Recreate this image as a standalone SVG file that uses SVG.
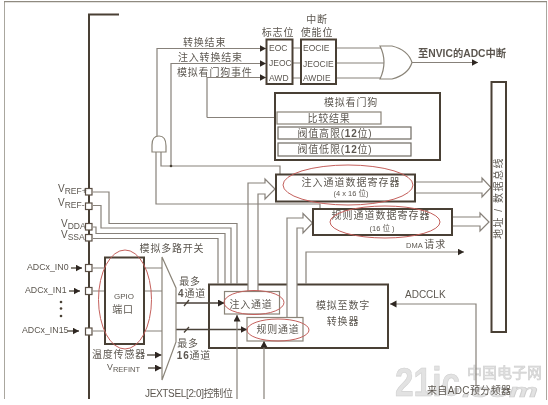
<svg xmlns="http://www.w3.org/2000/svg" width="548" height="405" viewBox="0 0 548 405">
<style>
text{font-family:"Liberation Sans","Noto Sans CJK SC",sans-serif;fill:#5c5750;font-size:10px}
.c{text-anchor:middle}
.s{letter-spacing:.8px}
.b{font-weight:bold}
.f{font-size:8.500px}
.p{font-size:8.800px}
.sub{font-size:7.500px}
.l{fill:none;stroke:#87817a;stroke-width:1.200}
.d{fill:none;stroke:#4a4238;stroke-width:1.300}
.box{fill:#fff;stroke:#4a3f34;stroke-width:2}
.thin{fill:#fff;stroke:#8a8478;stroke-width:1.200}
.mid{fill:#fff;stroke:#6f6a62;stroke-width:1.200}
.pin{fill:#fff;stroke:#5a5044;stroke-width:1.200}
.e{fill:none;stroke:#c4605c;stroke-width:1}
.big{fill:#fff;stroke:#87817a;stroke-width:1.200}
.wm{fill:#e2e2e2;stroke:#cfcfcf;stroke-width:.6}
</style>
<defs>
<marker id="a" markerWidth="7" markerHeight="8" refX="6.500" refY="3.500" orient="auto" markerUnits="userSpaceOnUse"><path d="M0 0L6.500 3.500L0 7Z" fill="#2f2820"/></marker>
<filter id="soft" x="0" y="0" width="100%" height="100%"><feGaussianBlur stdDeviation="0.350"/></filter>
</defs>
<rect width="548" height="405" fill="#fff"/>
<g filter="url(#soft)">
<g id="frame"><path d="M4 399V1.500H547V400" fill="none" stroke="#8f8a80" stroke-width="1.500"/>
<path d="M119 14.500H89V399" fill="none" stroke="#4a3f34" stroke-width="2"/></g>
<g id="watermark">
<text class="wm b" x="395" y="396" textLength="65" lengthAdjust="spacingAndGlyphs" style="font-size:40px">21ic</text>
<text class="wm" x="467" y="378" textLength="75" lengthAdjust="spacingAndGlyphs" style="font-size:15px">中国电子网</text>
<text class="wm b" x="462" y="397" textLength="76" lengthAdjust="spacingAndGlyphs" style="font-size:18px;font-style:italic">.com</text>
</g>
<g id="adc"><rect class="box" x="209" y="284.500" width="179" height="63.500"/>
<text x="343" y="309" class="c s">模拟至数字</text><text x="343" y="325" class="c s">转换器</text></g>
<g id="connectors">
<path class="l" d="M157 136V48.500H266" marker-end="url(#a)"/>
<path class="l" d="M171 166V63.500H266" marker-end="url(#a)"/>
<path class="l" d="M207 117.500V77.500H266" marker-end="url(#a)"/>
<path class="l" d="M207 117.500H277"/>
<path class="l" d="M161 152V166H280V174"/>
<circle cx="171" cy="166" r="1.300" fill="#4a4238"/>
<path class="l" d="M93 192H109V223.500H237V284"/>
<path class="l" d="M93 205.500H101V228H231V284"/>
<path class="l" d="M93 227H96V233.500H225V284"/>
<path class="l" d="M93 238.500H218V284"/>
<path class="l" d="M93 268H162M93 291H162M93 331H162"/>
<path class="d" d="M176 303H224.500" marker-end="url(#a)"/>
<path class="d" d="M176 329.500H247" marker-end="url(#a)"/>
<path class="d" d="M184 306L189 300M184 332.500L189 327"/>
<path class="big" d="M248 291V183H265V179L275 189L265 199V194H258V291"/>
<path class="big" d="M287 317V218H303V213.500L312.500 223L303 233V228H297V317"/>
<path class="big" d="M415 182H482V178L491 187.500L482 197V193H415"/>
<path class="big" d="M452 217H480V213L489 222L480 231V226H452"/>
<path class="l" d="M156 152V204H320V209"/>
<path class="l" d="M306 284V252H464" marker-end="url(#a)"/>
<path class="l" d="M476 385V304H390" marker-end="url(#a)"/>
<path class="l" d="M237 399V315" marker-end="url(#a)"/>
<path class="l" d="M264 399V341" marker-end="url(#a)"/>
<path class="l" d="M337 48H384M337 63H384M337 78H384"/>
<path class="l" d="M293 48H301M293 63H301M293 78H301"/>
<path class="l" d="M412 62.500H478" marker-end="url(#a)"/>
<path class="d" d="M147 355H161.500" marker-end="url(#a)"/>
<path class="d" d="M148 368H161.500" marker-end="url(#a)"/>
<path class="d" d="M71 268H82" marker-end="url(#a)"/>
<path class="d" d="M69 291H80" marker-end="url(#a)"/>
<path class="d" d="M68 331H79" marker-end="url(#a)"/>
</g>
<g id="labels">
<text x="183" y="46" class="s">转换结束</text>
<text x="178" y="61" class="s">注入转换结束</text>
<text x="177" y="75.500" class="s">模拟看门狗事件</text>
</g>
<g id="gate-and"><path class="thin" d="M152 152V145Q152 136 159 136Q166 136 166 146V152Z"/></g>
<g id="gate-or"><path class="thin" d="M380 46H392Q408 50 412 62.500Q408 75 392 79H380Q388 62 380 46Z"/></g>
<g id="flags"><rect class="box" x="266.500" y="39.500" width="26" height="44.500"/>
<text x="278" y="36" class="c s">标志位</text>
<text x="269" y="51" class="f">EOC</text><text x="269" y="66" class="f">JEOC</text><text x="269" y="81" class="f">AWD</text></g>
<g id="enable"><rect class="box" x="301" y="39.500" width="35" height="44.500"/>
<text x="317" y="23" class="c s">中断</text><text x="317" y="36" class="c s">使能位</text>
<text x="303" y="50.500" class="f">EOCIE</text><text x="303" y="67" class="f">JEOCIE</text><text x="303" y="81" class="f">AWDIE</text></g>
<g id="nvic"><text x="418" y="57" class="b" style="font-size:10.300px">至NVIC的ADC中断</text></g>
<g id="watchdog"><rect class="box" x="275" y="93" width="165" height="67"/>
<text x="351" y="106" class="c s">模拟看门狗</text>
<rect class="thin" x="277" y="112" width="104" height="12"/><text x="329" y="122" class="c s">比较结果</text>
<rect class="mid" x="278" y="127" width="133" height="12"/><text x="335" y="137" class="c s">阀值高限(<tspan class="b">12</tspan>位)</text>
<rect class="mid" x="278" y="143" width="133" height="13"/><text x="335" y="153" class="c s">阀值低限(<tspan class="b">12</tspan>位)</text></g>
<g id="injected-reg"><rect class="box" x="276" y="174.500" width="139" height="27"/>
<text x="351" y="186" class="c" style="letter-spacing:1px">注入通道数据寄存器</text><text x="351" y="196" class="c sub">(4 x 16 位)</text>
<ellipse class="e" cx="348" cy="185" rx="65" ry="20"/></g>
<g id="regular-reg"><rect class="box" x="313" y="209" width="139" height="26"/>
<text x="381" y="219" class="c" style="letter-spacing:1px">规则通道数据寄存器</text><text x="382" y="231" class="c sub">(16 位 )</text>
<ellipse class="e" cx="385" cy="222" rx="55" ry="16"/></g>
<g id="bus"><rect class="box" x="491.500" y="82" width="14.500" height="250"/>
<text transform="translate(502 198) rotate(-90)" class="c" style="letter-spacing:1.500px">地址 / 数据总线</text></g>
<g id="dma"><text x="406" y="248" style="font-size:7.500px">DMA  <tspan style="font-size:10px" class="s">请求</tspan></text></g>
<g id="inj-ch"><rect class="thin" x="224.500" y="291.500" width="55" height="22.500"/><text x="251" y="308" class="c s">注入通道</text>
<ellipse class="e" cx="254" cy="302.500" rx="30" ry="12"/></g>
<g id="reg-ch"><rect class="thin" x="247" y="317.500" width="56" height="23.500"/><text x="278" y="333" class="c s">规则通道</text>
<ellipse class="e" cx="278" cy="330" rx="31" ry="11"/></g>
<g id="adcclk"><text x="405" y="298">ADCCLK</text></g>
<g id="divider"><text x="427" y="394" textLength="84" lengthAdjust="spacing">来自ADC预分频器</text></g>
<g id="gpio"><rect class="box" x="105" y="257.500" width="39" height="86.500"/>
<text x="124" y="299" class="c" style="font-size:8px">GPIO</text><text x="123" y="313" class="c s">端口</text>
<ellipse class="e" cx="125" cy="299.500" rx="26.500" ry="49.500"/></g>
<g id="mux"><path class="thin" d="M162 257L176 288V342L162 380Z"/><text x="172" y="252" class="c s">模拟多路开关</text></g>
<g id="pins">
<rect class="pin" x="85.500" y="188.500" width="6.500" height="6.500"/><rect class="pin" x="85.500" y="203" width="6.500" height="6.500"/><rect class="pin" x="85.500" y="223.500" width="6.500" height="6.500"/><rect class="pin" x="85.500" y="234.500" width="6.500" height="6.500"/><rect class="pin" x="85.500" y="264.500" width="6.500" height="7"/><rect class="pin" x="85.500" y="287.500" width="6.500" height="7"/><rect class="pin" x="85.500" y="328" width="6.500" height="7"/>
<text x="58" y="192">V<tspan dy="2" class="f">REF+</tspan></text>
<text x="58" y="206">V<tspan dy="2" class="f">REF-</tspan></text>
<text x="61" y="227">V<tspan dy="2" class="f">DDA</tspan></text>
<text x="61" y="238">V<tspan dy="2" class="f">SSA</tspan></text>
<text x="27" y="270" class="p">ADCx_IN0</text>
<text x="25" y="293" class="p">ADCx_IN1</text>
<text x="22" y="333" class="p">ADCx_IN15</text>
<circle cx="61" cy="302" r="1.300" fill="#4a3f34"/><circle cx="61" cy="308.500" r="1.300" fill="#4a3f34"/><circle cx="61" cy="316" r="1.300" fill="#4a3f34"/>
</g>
<g id="inputs">
<text x="119" y="358" class="c s">温度传感器</text>
<text x="107" y="370" class="p">V<tspan dy="2" class="sub">REFINT</tspan></text>
<text x="190" y="285" class="c s">最多</text><text x="192" y="297" class="c s"><tspan class="b">4</tspan>通道</text>
<text x="188" y="347" class="c s">最多</text><text x="194" y="359" class="c s"><tspan class="b">16</tspan>通道</text>
<text x="145" y="397" textLength="88" lengthAdjust="spacing">JEXTSEL[2:0]控制位</text>
</g>
</g>
</svg>
